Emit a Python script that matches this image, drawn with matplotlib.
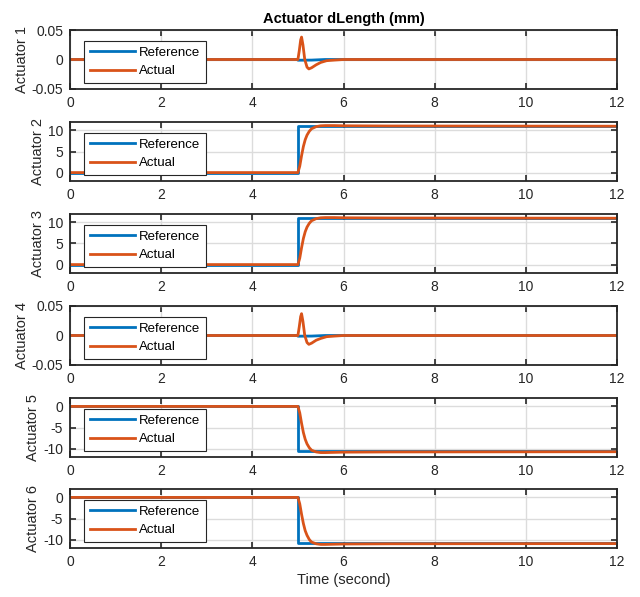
import numpy as np
import matplotlib
matplotlib.use("Agg")
import matplotlib.pyplot as plt

plt.rcParams["font.family"] = ["Liberation Sans", "DejaVu Sans"]

# Commanded leg-length change per actuator (step at t = 5 s)
ref_t = [0, 5.0, 5.0, 12]
ref_small_t = [0, 5.0, 5.0, 5.3, 5.6, 12]
ref1 = [0, 0, -0.0012, -0.001, 0, 0]
ref2 = [0, 0, 10.95, 10.95]
ref3 = [0, 0, 10.95, 10.95]
ref4 = [0, 0, -0.0012, -0.001, 0, 0]
ref5 = [0, 0, -10.6, -10.6]
ref6 = [0, 0, -10.8, -10.8]

# Measured response (sampled off the recorded run)
act_small_t = [0, 5.0, 5.03, 5.06, 5.08, 5.11, 5.15, 5.2, 5.24, 5.3, 5.4, 5.5,
               5.63, 5.8, 6.0, 12]
act1 = [0, 0, 0.015, 0.033, 0.038, 0.025, 0.0, -0.013, -0.016, -0.014, -0.009,
        -0.005, -0.002, -0.001, 0, 0]
act4 = [0, 0, 0.015, 0.032, 0.037, 0.024, 0.0, -0.012, -0.015, -0.013, -0.008,
        -0.005, -0.002, -0.001, 0, 0]

act_step_t = [0, 5.0, 5.04, 5.08, 5.12, 5.16, 5.2, 5.25, 5.3, 5.4, 5.5, 5.6,
              5.8, 6.0, 7.0, 12]
act2 = [0, 0, 1.5, 4.0, 6.2, 7.8, 8.9, 9.8, 10.4, 10.9, 11.1, 11.15, 11.15,
        11.1, 11.05, 11.0]
act3 = [0, 0, 1.5, 4.0, 6.2, 7.8, 8.9, 9.8, 10.4, 10.9, 11.1, 11.15, 11.15,
        11.1, 11.05, 11.0]
act5 = [0, 0, -1.5, -4.0, -6.2, -7.8, -8.9, -9.8, -10.4, -10.8, -10.95, -10.95,
        -10.9, -10.85, -10.8, -10.75]
act6 = [0, 0, -1.5, -4.0, -6.2, -7.9, -9.0, -10.0, -10.6, -11.0, -11.15,
        -11.15, -11.1, -11.05, -11.0, -10.95]

series = [
    (ref_small_t, ref1, act_small_t, act1, (-0.05, 0.05), [-0.05, 0, 0.05], ["-0.05", "0", "0.05"]),
    (ref_t, ref2, act_step_t, act2, (-2, 12), [0, 5, 10], ["0", "5", "10"]),
    (ref_t, ref3, act_step_t, act3, (-2, 12), [0, 5, 10], ["0", "5", "10"]),
    (ref_small_t, ref4, act_small_t, act4, (-0.05, 0.05), [-0.05, 0, 0.05], ["-0.05", "0", "0.05"]),
    (ref_t, ref5, act_step_t, act5, (-12, 2), [-10, -5, 0], ["-10", "-5", "0"]),
    (ref_t, ref6, act_step_t, act6, (-12, 2), [-10, -5, 0], ["-10", "-5", "0"]),
]

BLUE = "#0072BD"
ORANGE = "#D95319"
W, H = 640, 597
fig = plt.figure(figsize=(W / 100, H / 100), dpi=100)

tops = [30, 122, 214, 306, 398, 489]
for i, (rt, rv, at, av, ylim, yt, ytl) in enumerate(series):
    top = tops[i]
    ax = fig.add_axes([70 / W, 1 - (top + 59) / H, 547 / W, 59 / H])
    ax.plot(rt, rv, color=BLUE, lw=2.0, label="Reference")
    ax.plot(at, av, color=ORANGE, lw=2.0, label="Actual")
    ax.set_xlim(0, 12)
    ax.set_ylim(*ylim)
    ax.set_xticks(range(0, 13, 2))
    ax.set_yticks(yt)
    ax.set_yticklabels(ytl)
    ax.grid(True, color="#dcdcdc", lw=1.0)
    ax.set_axisbelow(True)
    ax.tick_params(direction="in", length=4, width=1.2, top=True, right=True,
                   labelsize=10, colors="#262626", pad=5)
    for s in ax.spines.values():
        s.set_linewidth(1.3)
        s.set_color("#262626")
    ax.set_ylabel(f"Actuator {i + 1}", fontsize=10.5, color="#262626", labelpad=2)
    leg = ax.legend(loc="lower left", bbox_to_anchor=(0.026, 0.10), fontsize=9.5,
                    handlelength=3.4, handletextpad=0.3, borderpad=0.45,
                    labelspacing=0.45, borderaxespad=0, fancybox=False,
                    framealpha=1, edgecolor="#262626")
    leg.get_frame().set_linewidth(0.8)
    if i == 0:
        ax.set_title("Actuator dLength (mm)", fontsize=10.5, fontweight="bold", pad=5)
    if i == 5:
        ax.set_xlabel("Time (second)", fontsize=10.5, color="#262626", labelpad=3)

fig.savefig("out.png", dpi=100)
